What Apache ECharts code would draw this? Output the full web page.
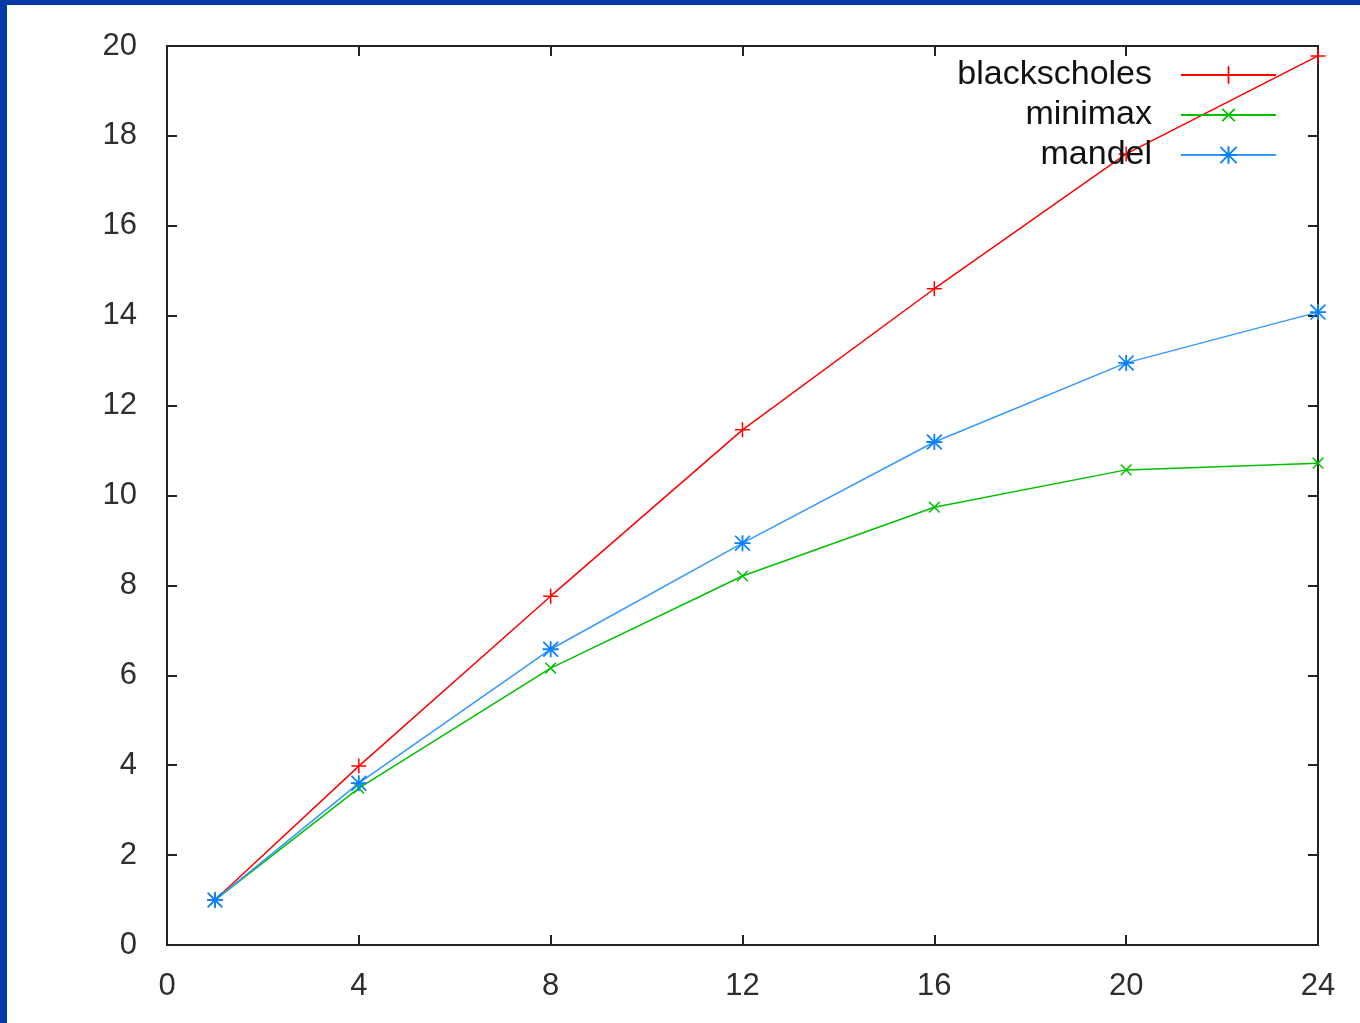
<!DOCTYPE html>
<html>
<head>
<meta charset="utf-8">
<script src="https://cdn.jsdelivr.net/npm/echarts@6/dist/echarts.min.js"></script>
<style>
  html, body { margin: 0; padding: 0; }
  body { width: 1360px; height: 1023px; background: #0638a8; position: relative; overflow: hidden; }
  #main { position: absolute; left: 7px; top: 5px; width: 1353px; height: 1018px; background: #fff; }
</style>
</head>
<body>
<div id="main"></div>
<script>
// threads on x, speedup on y
var threads = [1, 4, 8, 12, 16, 20, 24];
var blackscholes = [1.0, 3.98, 7.76, 11.46, 14.6, 17.6, 19.78];
var minimax = [1.0, 3.49, 6.16, 8.21, 9.74, 10.57, 10.72];
var mandel = [1.0, 3.6, 6.58, 8.94, 11.19, 12.95, 14.08];

var xTicks = { min: 0, max: 24, interval: 4 };
var yTicks = { min: 0, max: 20, interval: 2 };

// gnuplot-ish point types
var plusPath = "path://M7.2,0H8.8V7.2H16V8.8H8.8V16H7.2V8.8H0V7.2H7.2Z";
var starPath = "path://M7.1,0H8.9V7.1H16V8.9H8.9V16H7.1V8.9H0V7.1H7.1Z" +
  "M0,1.2L1.2,0L16,14.8L14.8,16ZM14.8,0L16,1.2L1.2,16L0,14.8Z";

function pairs(vals) {
  var out = [];
  for (var i = 0; i < threads.length; i++) {
    out.push([threads[i], vals[i]]);
  }
  return out;
}

var font = "Liberation Sans";

function axis(pos, showLabel) {
  var isX = pos === "top" || pos === "bottom";
  var t = isX ? xTicks : yTicks;
  return {
    type: "value",
    position: pos,
    min: t.min,
    max: t.max,
    interval: t.interval,
    splitLine: { show: false },
    axisLine: { show: true, onZero: false, lineStyle: { color: "#222", width: 2 } },
    axisTick: { show: true, inside: true, length: 10, lineStyle: { color: "#222", width: 2 } },
    axisLabel: {
      show: showLabel,
      color: "#2e2e2e",
      fontFamily: font,
      fontSize: 31,
      margin: isX ? 26 : 30
    }
  };
}

var myChart = echarts.init(document.getElementById("main"));
var option = {
  animation: false,
  backgroundColor: "#fff",
  grid: { left: 160, top: 41, right: 42, bottom: 78 },
  xAxis: [axis("bottom", true), axis("top", false)],
  yAxis: [axis("left", true), axis("right", false)],
  legend: {
    orient: "vertical",
    right: 78,
    top: 48,
    align: "right",
    itemWidth: 95,
    itemHeight: 22,
    itemGap: 6,
    textStyle: { fontFamily: font, fontSize: 34, color: "#111", padding: [0, 24, 0, 0] },
    data: ["blackscholes", "minimax", "mandel"]
  },
  series: [
    {
      name: "blackscholes",
      type: "line",
      data: pairs(blackscholes),
      symbol: plusPath,
      symbolSize: 15,
      lineStyle: { color: "#ff0000", width: 1.5 },
      itemStyle: { color: "#ff0000" }
    },
    {
      name: "minimax",
      type: "line",
      data: pairs(minimax),
      symbol: plusPath,
      symbolRotate: 45,
      symbolSize: 15,
      lineStyle: { color: "#00c000", width: 1.5 },
      itemStyle: { color: "#00c000" }
    },
    {
      name: "mandel",
      type: "line",
      data: pairs(mandel),
      symbol: starPath,
      symbolSize: 16,
      lineStyle: { color: "#3399ff", width: 1.5 },
      itemStyle: { color: "#0a80ff" }
    }
  ]
};
myChart.setOption(option);
window.addEventListener("resize", function () {
  myChart.resize();
});
</script>
</body>
</html>
